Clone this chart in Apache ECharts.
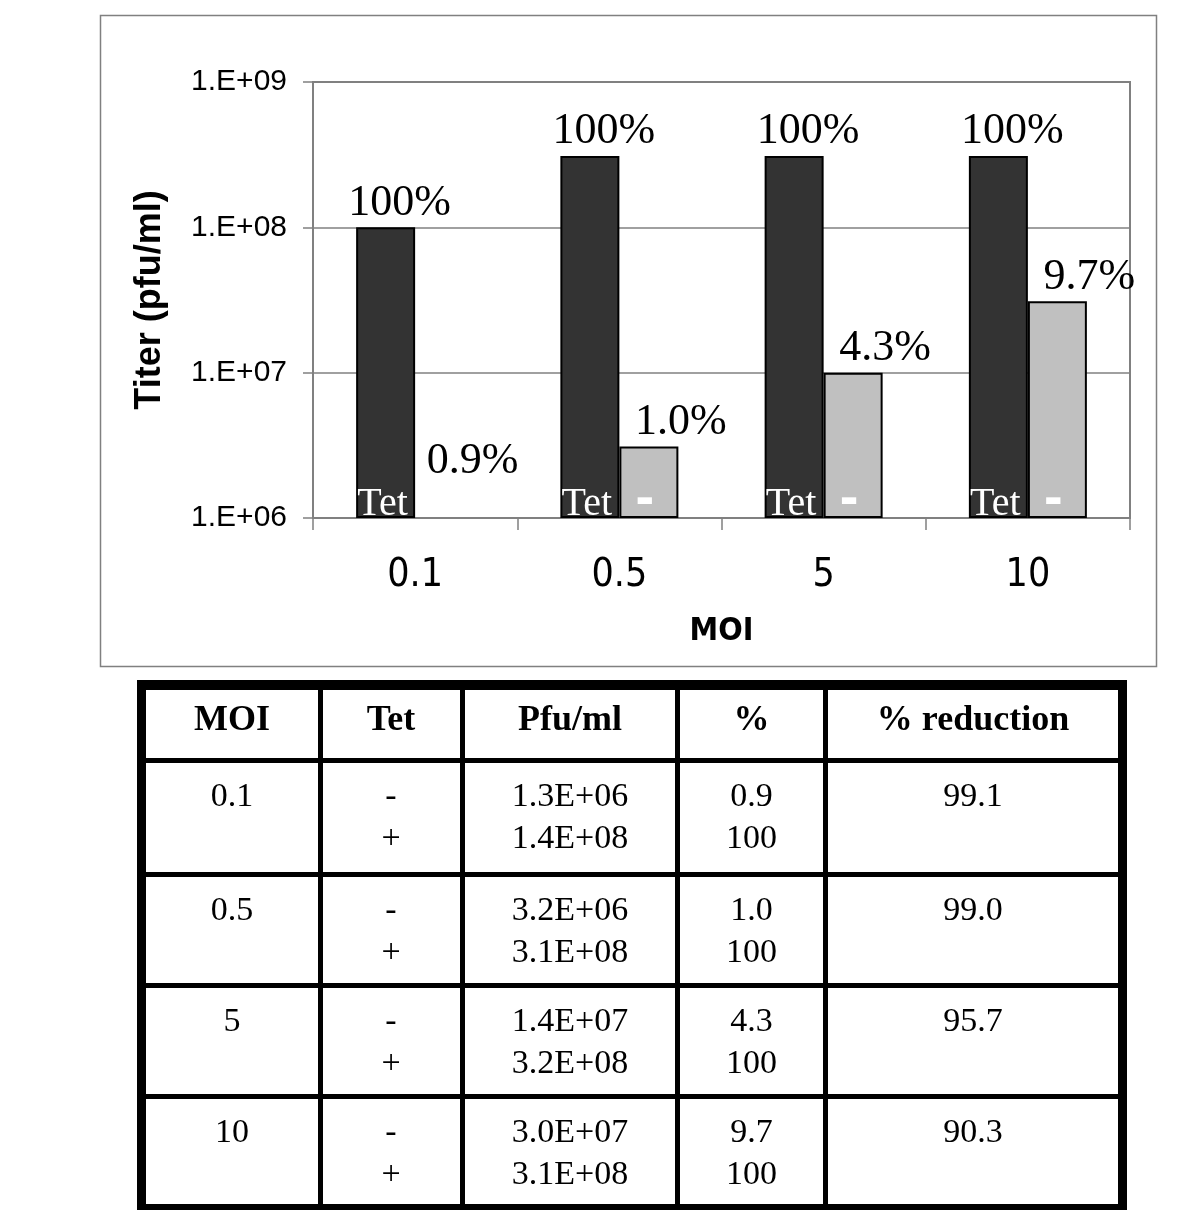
<!DOCTYPE html>
<html><head><meta charset="utf-8">
<script src="https://cdn.jsdelivr.net/npm/echarts@6/dist/echarts.min.js"></script>
<style>
html,body{margin:0;padding:0;background:#fff;width:1200px;height:1210px;overflow:hidden;}
#chart{position:absolute;left:0;top:0;width:1200px;height:675px;}
#tbl{position:absolute;left:0;top:0;width:1200px;height:1210px;pointer-events:none;font-family:'Liberation Serif','Times New Roman',serif;color:#000;}
.ln{position:absolute;background:#000;}
.cell{position:absolute;text-align:center;font-size:34px;line-height:42px;}
.hd{position:absolute;text-align:center;font-size:36px;font-weight:bold;line-height:40px;}
</style>
</head><body>
<div id="chart"></div>
<div id="tbl"></div>
<script>
// ---- chart data ----
const categories = ['0.1', '0.5', '5', '10'];
const titerTetPlus = [1.0e8, 3.1e8, 3.1e8, 3.1e8];   // dark bars
const titerTetMinus = [1.0e6, 3.1e6, 1.0e7, 3.1e7];  // light bars
const pctTetPlus = ['100', '100', '100', '100'];
const pctTetMinus = ['0.9', '1.0', '4.3', '9.7'];
const yMin = 1e6, yMax = 1e9;

// ---- table data ----
const tableHeader = ['MOI', 'Tet', 'Pfu/ml', '%', '% reduction'];
const tableMoi = ['0.1', '0.5', '5', '10'];
const tableTet = ['-', '+'];
const pfuMinus = ['1.3E+06', '3.2E+06', '1.4E+07', '3.0E+07'];
const pfuPlus = ['1.4E+08', '3.1E+08', '3.2E+08', '3.1E+08'];
const pctMinusTbl = ['0.9', '1.0', '4.3', '9.7'];
const pctPlusTbl = ['100', '100', '100', '100'];
const reduction = ['99.1', '99.0', '95.7', '90.3'];

const sans = "'Liberation Sans', Arial, sans-serif";
const narrow = "'Liberation Sans Narrow', 'DejaVu Sans Condensed', 'Liberation Sans', sans-serif";
const serif = "'Liberation Serif', 'Times New Roman', serif";

const chart = echarts.init(document.getElementById('chart'), null, {renderer: 'canvas'});
const BW = 59;
const option = {
  animation: false,
  backgroundColor: '#fff',
  graphic: [{
    type: 'rect', shape: {x: 100.5, y: 15.5, width: 1056, height: 651},
    style: {fill: 'none', stroke: '#808080', lineWidth: 1.5}, silent: true, z: -1
  }],
  grid: {left: 313, top: 82, width: 817, height: 436, show: true, borderColor: '#808080', borderWidth: 2, backgroundColor: 'transparent'},
  xAxis: [{
    type: 'category', data: categories, boundaryGap: true,
    axisLine: {show: true, lineStyle: {color: '#808080', width: 2}},
    axisTick: {show: true, length: 12, alignWithLabel: false, lineStyle: {color: '#808080', width: 1.5}},
    axisLabel: {fontSize: 39, fontFamily: narrow, color: '#000', margin: 38},
    splitLine: {show: false},
    name: 'MOI', nameLocation: 'middle', nameGap: 98,
    nameTextStyle: {fontSize: 32, fontWeight: 'bold', fontFamily: narrow, color: '#000'}
  }, {
    type: 'category', data: categories, boundaryGap: true, show: false
  }],
  yAxis: {
    type: 'log', logBase: 10, min: yMin, max: yMax, startValue: yMin,
    axisLine: {show: true, lineStyle: {color: '#808080', width: 2}},
    axisTick: {show: true, length: 10, lineStyle: {color: '#808080', width: 1.5}},
    splitLine: {show: true, lineStyle: {color: '#808080', width: 1.5}},
    minorTick: {show: false}, minorSplitLine: {show: false},
    axisLabel: {
      fontSize: 30, fontFamily: sans, color: '#000', margin: 26,
      formatter: v => '1.E+' + String(Math.round(Math.log10(v))).padStart(2, '0')
    },
    name: 'Titer (pfu/ml)', nameLocation: 'middle', nameGap: 145, nameRotate: 90,
    nameTextStyle: {fontSize: 36, fontWeight: 'bold', fontFamily: sans, color: '#000'}
  },
  series: [{
    name: 'Tet +', type: 'bar', xAxisIndex: 0, data: titerTetPlus, barWidth: BW, barGap: '0%', clip: false,
    itemStyle: {color: '#333333', borderColor: '#000', borderWidth: 2},
    label: {show: true, position: 'top', distance: 2, offset: [14, 0], fontSize: 44, fontFamily: serif, color: '#000',
      formatter: p => pctTetPlus[p.dataIndex] + '%'}
  }, {
    name: 'Tet -', type: 'bar', xAxisIndex: 0, barWidth: BW, barGap: '0%', clip: false,
    data: titerTetMinus.map((v, i) => v <= yMin
      ? {value: v, itemStyle: {borderWidth: 0, color: 'rgba(0,0,0,0)'}, label: {offset: [28, -33]}}
      : v),
    itemStyle: {color: '#c0c0c0', borderColor: '#000', borderWidth: 2},
    label: {show: true, position: 'top', distance: 2, offset: [32, 0], fontSize: 44, fontFamily: serif, color: '#000',
      formatter: p => pctTetMinus[p.dataIndex] + '%'}
  }, {
    name: 'tagPlus', type: 'bar', xAxisIndex: 1, data: titerTetPlus, barWidth: BW, barGap: '0%', clip: false, silent: true, z: 5,
    itemStyle: {color: 'rgba(0,0,0,0)', borderWidth: 0},
    label: {show: true, position: 'insideBottom', distance: 0, offset: [-3, 6], fontSize: 40, fontFamily: serif, color: '#fff',
      formatter: () => 'Tet'}
  }, {
    name: 'tagMinus', type: 'bar', xAxisIndex: 1, data: titerTetMinus, barWidth: BW, barGap: '0%', clip: false, silent: true, z: 5,
    itemStyle: {color: 'rgba(0,0,0,0)', borderWidth: 0},
    label: {show: true, position: 'insideBottom', distance: 0, offset: [-4, 10], fontSize: 56, fontWeight: 'bold', fontFamily: sans, color: '#fff',
      formatter: p => (p.value > yMin ? '-' : '')}
  }]
};
chart.setOption(option);

// ---- table (HTML) ----
const tbl = document.getElementById('tbl');
function add(cls, l, t, w, h, txt) {
  const d = document.createElement('div');
  d.className = cls;
  d.style.left = l + 'px'; d.style.top = t + 'px'; d.style.width = w + 'px';
  if (h != null) d.style.height = h + 'px';
  if (txt != null) d.innerHTML = txt;
  tbl.appendChild(d);
}
const colL = [146, 322, 465, 680, 828];
const colR = [318, 460, 675, 823, 1118];
add('ln', 137, 680, 990, 10);
add('ln', 137, 758, 990, 5);
const rowTop = [763, 877, 988, 1099];
[872, 983, 1094].forEach(y => add('ln', 137, y, 990, 5));
add('ln', 137, 1204, 990, 6);
add('ln', 137, 680, 9, 530);
add('ln', 1118, 680, 9, 530);
[318, 460, 675, 823].forEach(x => add('ln', x, 680, 5, 530));
tableHeader.forEach((h, c) => add('hd', colL[c], 698, colR[c] - colL[c], null, h));
for (let r = 0; r < tableMoi.length; r++) {
  const t = rowTop[r] + 11;
  const cols = [
    tableMoi[r],
    tableTet[0] + '<br>' + tableTet[1],
    pfuMinus[r] + '<br>' + pfuPlus[r],
    pctMinusTbl[r] + '<br>' + pctPlusTbl[r],
    reduction[r]
  ];
  cols.forEach((txt, c) => add('cell', colL[c], t, colR[c] - colL[c], null, txt));
}
</script>
</body></html>
